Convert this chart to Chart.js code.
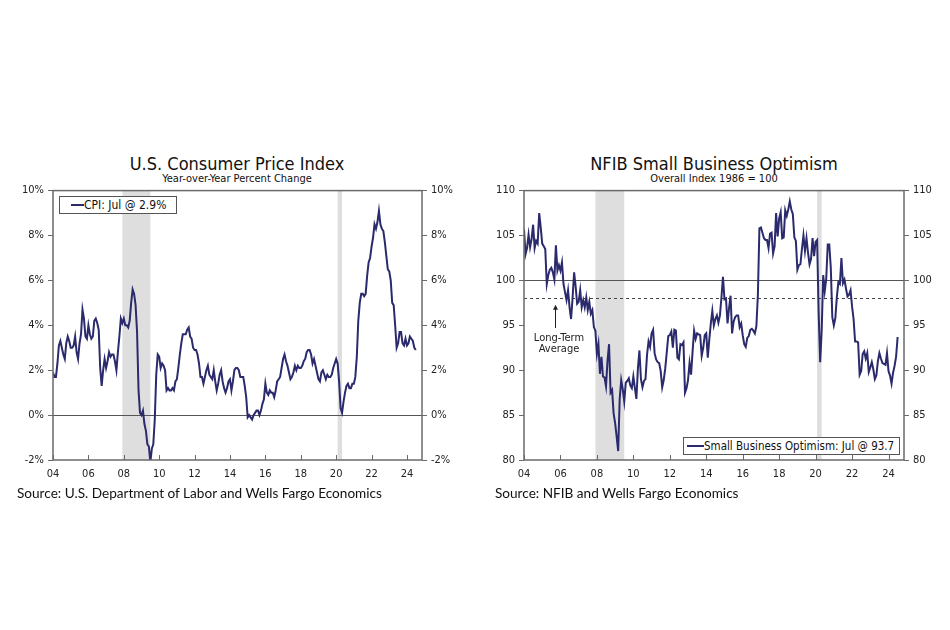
<!DOCTYPE html>
<html>
<head>
<meta charset="utf-8">
<script src="https://cdn.jsdelivr.net/npm/chart.js@4.4.1/dist/chart.umd.min.js"></script>
<style>
  body { margin: 0; background: #fff; }
  #page { position: relative; width: 950px; height: 630px; overflow: hidden; font-family: "DejaVu Sans Condensed", "DejaVu Sans", sans-serif; color: #111; }
  .title { position: absolute; width: 460px; text-align: center; font-size: 18px; line-height: 20px; }
  .subtitle { position: absolute; width: 460px; text-align: center; font-size: 11px; line-height: 12px; }
  .source { position: absolute; font-family: Lato, "Open Sans", sans-serif; font-size: 13.6px; line-height: 16px; color: #111; white-space: nowrap; }
  .box { position: absolute; }
  .legend { position: absolute; border: 1px solid #555; background: #fff; line-height: 16px; white-space: nowrap; box-sizing: border-box; }
  .legend i { display: inline-block; height: 2px; background: #2a2a6c; vertical-align: middle; margin: 0 0 2px 0; }
</style>
</head>
<body>
<div id="page">
  <div class="title" style="left:7px; top:154px;">U.S. Consumer Price Index</div>
  <div class="subtitle" style="left:7px; top:173px;">Year-over-Year Percent Change</div>
  <div class="box" style="left:10px; top:180px; width:450px; height:310px;"><canvas id="cpiChart"></canvas></div>
  <div class="legend" style="left:59px; top:196px; width:118px; height:18px; font-size:12px; padding-left:11px;"><i style="width:13px;"></i>CPI: Jul @ 2.9%</div>
  <div class="source" style="left:17px; top:485px;">Source: U.S. Department of Labor and Wells Fargo Economics</div>

  <div class="title" style="left:484px; top:154px;">NFIB Small Business Optimism</div>
  <div class="subtitle" style="left:484px; top:173px;">Overall Index 1986 = 100</div>
  <div class="box" style="left:480px; top:180px; width:460px; height:310px;"><canvas id="nfibChart"></canvas></div>
  <div class="legend" style="left:683px; top:437px; width:217px; height:18px; font-size:11.5px; padding-left:3px;"><i style="width:17px;"></i>Small Business Optimism: Jul @ 93.7</div>
  <div class="source" style="left:495px; top:485px;">Source: NFIB and Wells Fargo Economics</div>
</div>

<script>
// monthly series, Jan 2004 - Jul 2024
const startYear = 2004;

const cpiValues = [
  1.9, 1.7, 1.7, 2.3, 3.1, 3.3, 3.0, 2.7, 2.5, 3.2, 3.5, 3.3,
  3.0, 3.0, 3.1, 3.5, 2.8, 2.5, 3.2, 3.6, 4.7, 4.3, 3.5, 3.4,
  4.0, 3.6, 3.4, 3.5, 4.2, 4.3, 4.1, 3.8, 2.1, 1.3, 2.0, 2.5,
  2.1, 2.4, 2.8, 2.6, 2.7, 2.7, 2.4, 2.0, 2.8, 3.5, 4.3, 4.1,
  4.3, 4.0, 4.0, 3.9, 4.2, 5.0, 5.6, 5.4, 4.9, 3.7, 1.1, 0.1,
  0.0, 0.2, -0.4, -0.7, -1.3, -1.4, -2.1, -1.5, -1.3, -0.2, 1.8, 2.7,
  2.6, 2.1, 2.3, 2.2, 2.0, 1.1, 1.2, 1.1, 1.1, 1.2, 1.1, 1.5,
  1.6, 2.1, 2.7, 3.2, 3.6, 3.6, 3.6, 3.8, 3.9, 3.5, 3.4, 3.0,
  2.9, 2.9, 2.7, 2.3, 1.7, 1.7, 1.4, 1.7, 2.0, 2.2, 1.8, 1.7,
  1.6, 2.0, 1.5, 1.1, 1.4, 1.8, 2.0, 1.5, 1.2, 1.0, 1.2, 1.5,
  1.6, 1.1, 1.5, 2.0, 2.1, 2.1, 2.0, 1.7, 1.7, 1.7, 1.3, 0.8,
  -0.1, 0.0, -0.1, -0.2, 0.0, 0.1, 0.2, 0.2, 0.0, 0.2, 0.5, 0.7,
  1.4, 1.0, 0.9, 1.1, 1.0, 1.0, 0.8, 1.1, 1.5, 1.6, 1.7, 2.1,
  2.5, 2.7, 2.4, 2.2, 1.9, 1.6, 1.7, 1.9, 2.2, 2.0, 2.2, 2.1,
  2.1, 2.2, 2.4, 2.5, 2.8, 2.9, 2.9, 2.7, 2.3, 2.5, 2.2, 1.9,
  1.6, 1.5, 1.9, 2.0, 1.8, 1.6, 1.8, 1.7, 1.7, 1.8, 2.1, 2.3,
  2.5, 2.3, 1.5, 0.3, 0.1, 0.6, 1.0, 1.3, 1.4, 1.2, 1.2, 1.4,
  1.4, 1.7, 2.6, 4.2, 5.0, 5.4, 5.4, 5.3, 5.4, 6.2, 6.8, 7.0,
  7.5, 7.9, 8.5, 8.3, 8.6, 9.1, 8.5, 8.3, 8.2, 7.7, 7.1, 6.5,
  6.4, 6.0, 5.0, 4.9, 4.0, 3.0, 3.2, 3.7, 3.7, 3.2, 3.1, 3.4,
  3.1, 3.2, 3.5, 3.4, 3.3, 3.0, 2.9
];

const nfibValues = [
  105.7, 102.9, 103.6, 105.1, 103.7, 104.6, 106.2, 103.6, 104.4, 104.1, 107.5, 105.9,
  104.1, 103.8, 103.5, 99.6, 100.6, 101.2, 101.4, 100.9, 100.1, 103.9, 101.1, 101.7,
  101.1, 102.0, 99.6, 98.7, 97.8, 98.9, 97.0, 95.7, 98.1, 100.9, 99.3, 97.4,
  97.6, 98.9, 97.0, 97.8, 97.0, 98.1, 96.7, 97.6, 96.3, 96.7, 94.8, 94.4,
  91.8, 92.9, 89.6, 91.5, 89.3, 89.2, 88.2, 91.1, 92.9, 87.5, 87.8, 85.2,
  84.1, 82.6, 81.0, 86.8, 88.9, 87.9, 86.5, 88.6, 88.8, 89.1, 88.3, 88.0,
  89.3, 88.0, 86.8, 90.2, 92.2, 89.0, 88.1, 88.8, 89.0, 91.7, 93.2, 92.6,
  94.1, 94.5, 91.9, 91.2, 90.9, 90.8, 89.9, 88.1, 88.9, 90.2, 92.0, 93.8,
  93.9, 94.3, 92.5, 94.5, 94.4, 91.4, 91.2, 92.9, 92.8, 93.1, 87.5, 88.0,
  88.9, 90.8, 89.5, 92.1, 94.4, 93.5, 94.1, 94.0, 93.9, 91.6, 92.5, 93.9,
  94.1, 91.4, 93.4, 95.2, 96.6, 95.0, 95.7, 96.1, 95.3, 96.1, 98.1, 100.4,
  97.9, 98.0, 95.2, 96.9, 98.3, 94.1, 95.4, 95.9, 96.1, 96.1, 94.8, 95.2,
  93.9, 92.9, 92.6, 93.6, 93.8, 94.5, 94.6, 94.4, 94.1, 94.9, 98.4, 105.8,
  105.9, 105.3, 104.7, 104.5, 104.5, 103.6, 105.2, 105.3, 103.0, 103.8, 107.5, 104.9,
  106.9, 107.6, 104.7, 104.8, 107.8, 107.2, 107.9, 108.8, 107.9, 107.4, 104.8, 104.4,
  101.2, 101.7, 101.8, 103.5, 105.0, 103.3, 104.7, 103.1, 101.8, 102.4, 104.7, 102.7,
  104.3, 104.5, 96.4, 90.9, 94.4, 100.6, 98.8, 100.2, 104.0, 104.0, 101.4, 95.9,
  95.0, 95.8, 98.2, 99.8, 99.6, 102.5, 99.7, 100.1, 99.1, 98.2, 98.4, 98.9,
  97.1, 95.7, 93.2, 93.2, 93.1, 89.5, 89.9, 91.8, 92.1, 91.3, 91.9, 89.8,
  90.3, 90.9, 90.1, 89.0, 89.4, 91.0, 91.9, 91.3, 90.8, 90.7, 90.6, 91.9,
  89.9, 89.4, 88.5, 89.7, 90.5, 91.5, 93.7
];

// recession periods (Dec 2007 - Jun 2009, Feb 2020 - Apr 2020)
const recessions = [[2007.92, 2009.5], [2020.08, 2020.33]];

const cpiTicks = [-2, 0, 2, 4, 6, 8, 10];
const nfibTicks = [80, 85, 90, 95, 100, 105, 110];
const longTermAverage = 98;

const FONT = '"DejaVu Sans Condensed", "DejaVu Sans", sans-serif';
const LINE_COLOR = '#2a2a6c';
const AXIS_COLOR = '#6a6a6a';

function toPoints(values) {
    return values.map(function (v, i) { return { x: startYear + i / 12, y: v }; });
}

const decorPlugin = {
    id: 'decor',
    beforeDatasetsDraw: function (chart, args, opts) {
        const ctx = chart.ctx;
        const a = chart.chartArea;
        const x = chart.scales.x;
        const y = chart.scales.y;
        ctx.save();
        ctx.fillStyle = '#dedede';
        recessions.forEach(function (r) {
            const x0 = x.getPixelForValue(r[0]);
            const x1 = x.getPixelForValue(r[1]);
            ctx.fillRect(x0, a.top, x1 - x0, a.bottom - a.top);
        });
        (opts.lines || []).forEach(function (l) {
            const py = Math.round(y.getPixelForValue(l.value)) + 0.5;
            ctx.beginPath();
            ctx.strokeStyle = l.color;
            ctx.lineWidth = l.width || 1;
            ctx.setLineDash(l.dash || []);
            ctx.moveTo(a.left, py);
            ctx.lineTo(a.right, py);
            ctx.stroke();
        });
        ctx.setLineDash([]);
        if (opts.note) {
            const n = opts.note;
            const ax = Math.round(x.getPixelForValue(n.arrowX)) + 0.5;
            const tip = y.getPixelForValue(n.arrowTop);
            const base = y.getPixelForValue(n.arrowBottom);
            ctx.strokeStyle = '#222';
            ctx.fillStyle = '#222';
            ctx.lineWidth = 1;
            ctx.beginPath();
            ctx.moveTo(ax, base);
            ctx.lineTo(ax, tip + 3);
            ctx.stroke();
            ctx.beginPath();
            ctx.moveTo(ax, tip);
            ctx.lineTo(ax - 2.5, tip + 5);
            ctx.lineTo(ax + 2.5, tip + 5);
            ctx.closePath();
            ctx.fill();
            ctx.font = '11px ' + FONT;
            ctx.textAlign = 'center';
            ctx.textBaseline = 'middle';
            const tx = x.getPixelForValue(n.textX);
            n.lines.forEach(function (t, i) {
                ctx.fillText(t, tx, y.getPixelForValue(n.textY[i]));
            });
        }
        ctx.restore();
    },
    afterDatasetsDraw: function (chart) {
        const ctx = chart.ctx;
        const a = chart.chartArea;
        const x = chart.scales.x;
        ctx.save();
        ctx.strokeStyle = AXIS_COLOR;
        ctx.lineWidth = 1.5;
        ctx.strokeRect(a.left, a.top, a.right - a.left, a.bottom - a.top);
        ctx.lineWidth = 1;
        x.ticks.forEach(function (t) {
            const px = Math.round(x.getPixelForValue(t.value)) + 0.5;
            ctx.beginPath();
            ctx.moveTo(px, a.bottom);
            ctx.lineTo(px, a.bottom - 5);
            ctx.stroke();
        });
        ctx.restore();
    }
};

function buildChart(id, values, ticks, fmt, axisWidths, decor) {
    const yMin = ticks[0];
    const yMax = ticks[ticks.length - 1];
    const step = ticks[1] - ticks[0];
    const yAxis = function (pos, width) {
        return {
            position: pos,
            min: yMin, max: yMax,
            afterBuildTicks: function (s) { s.ticks = ticks.map(function (v) { return { value: v }; }); },
            afterFit: function (s) { s.width = width; },
            grid: { drawOnChartArea: false, color: AXIS_COLOR, tickLength: 5, lineWidth: 1 },
            border: { display: false },
            ticks: { stepSize: step, padding: 4, color: '#222', font: { size: 11, family: FONT }, callback: fmt }
        };
    };
    return new Chart(document.getElementById(id), {
        type: 'line',
        data: {
            datasets: [{
                data: toPoints(values),
                borderColor: LINE_COLOR,
                borderWidth: 2,
                pointRadius: 0,
                tension: 0,
                yAxisID: 'y'
            }]
        },
        options: {
            responsive: true,
            maintainAspectRatio: false,
            animation: false,
            events: [],
            layout: { padding: { top: 10, left: 0, right: 0, bottom: 0 } },
            plugins: { legend: { display: false }, tooltip: { enabled: false }, decor: decor },
            scales: {
                x: {
                    type: 'linear',
                    min: 2004, max: 2024.85,
                    afterFit: function (s) { s.height = 30; },
                    grid: { display: false, drawTicks: false },
                    border: { display: false },
                    ticks: {
                        stepSize: 2, includeBounds: false, padding: 8, maxRotation: 0,
                        color: '#222', font: { size: 11, family: FONT },
                        callback: function (v) { return String(Math.round(v) % 100).padStart(2, '0'); }
                    }
                },
                y: yAxis('left', axisWidths[0]),
                y2: yAxis('right', axisWidths[1])
            }
        },
        plugins: [decorPlugin]
    });
}

buildChart('cpiChart', cpiValues, cpiTicks,
    function (v) { return v + '%'; }, [43, 38],
    { lines: [{ value: 0, color: '#555', width: 1 }] });

buildChart('nfibChart', nfibValues, nfibTicks,
    function (v) { return v; }, [44, 36],
    {
        lines: [
            { value: 100, color: '#555', width: 1.2 },
            { value: longTermAverage, color: '#444', width: 1, dash: [3, 3] }
        ],
        note: {
            arrowX: 2005.7, arrowTop: 97.3, arrowBottom: 94.7,
            textX: 2005.92, textY: [93.55, 92.3], lines: ['Long-Term', 'Average']
        }
    });
</script>
</body>
</html>
